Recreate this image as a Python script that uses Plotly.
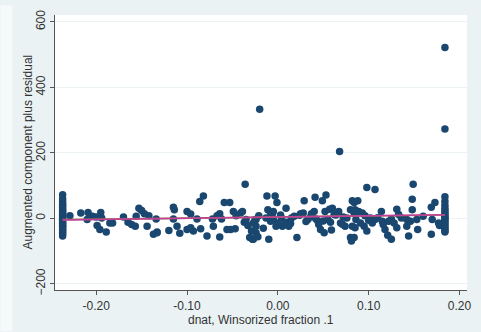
import plotly.graph_objects as go

# dnat (winsorized) vs. augmented component plus residual
x_left = -0.237
y_left = [72, 60, 51, 44, 39, 33, 27, 22, 18, 13, 9, 5, 1, -3, -7, -12, -16,
          -21, -25, -29, -34, -38, -43, -48, -54]
x_right = 0.184
y_right = [522, 273, 66, 52, 40, 31, 24, 17, 11, 6, 1, -4, -9, -15, -21, -27,
           -33, -38, -42]

x_mid = [-0.229, -0.217, -0.209, -0.210, -0.204, -0.200, -0.195, -0.194, -0.199,
         -0.196, -0.189, -0.185, -0.182, -0.170, -0.165, -0.161, -0.157, -0.156,
         -0.153, -0.150, -0.147, -0.142, -0.144, -0.137, -0.134, -0.133,
         -0.133, -0.120, -0.115, -0.114, -0.115, -0.111, -0.108, -0.100, -0.096,
         -0.100, -0.096, -0.093, -0.089, -0.085, -0.086, -0.082, -0.078, -0.072,
         -0.071, -0.067, -0.064, -0.062, -0.059, -0.053, -0.064, -0.056, -0.052,
         -0.047, -0.049, -0.046, -0.041, -0.039, -0.036, -0.037, -0.035, -0.033,
         -0.031, -0.028, -0.027, -0.029, -0.024,
         -0.025, -0.024, -0.024, -0.022, -0.027, -0.021, -0.020, -0.012, -0.003,
         -0.001, -0.011, -0.008, -0.005, -0.013, -0.008, -0.005, -0.002, 0.000,
         0.004, 0.005, 0.009, 0.010, 0.012, 0.015, -0.010, 0.021, 0.025, 0.028,
         0.029, 0.033, 0.037, 0.041, 0.040, 0.042, 0.045, 0.047, 0.049, 0.052,
         0.053, 0.055, 0.051, 0.057, 0.060, 0.059, 0.067, 0.068, 0.069, 0.074,
         0.076, 0.080, 0.082, 0.080, 0.081, 0.084, 0.082,
         0.084, 0.088, 0.098, 0.107, 0.085, 0.089, 0.093, 0.096, 0.086, 0.091,
         0.095, 0.098, 0.085, 0.084, 0.102, 0.104, 0.107, 0.114, 0.115, 0.116,
         0.118, 0.121, 0.125, 0.122, 0.125, 0.128, 0.131, 0.131, 0.136, 0.142,
         0.144, 0.142, 0.148, 0.148, 0.149, 0.146, 0.153, 0.154, 0.169, 0.173,
         0.170, 0.169, 0.177, 0.178,
         0.018, 0.031, 0.062, 0.071, 0.003, -0.016, 0.036, 0.044, 0.064, 0.110,
         0.014, 0.024, 0.058, 0.072, 0.100, 0.133, 0.160, -0.006, 0.007, 0.050]
y_mid = [8, 16, 18, -4, 6, 4, 18, 1, -22, -34, -42, -14, -14, 4, -12, -19, -24,
         6, 31, 24, 14, 8, -24, -49, -2, -42,
         -44, -37, 34, 26, -2, -24, -46, 21, 13, -34, -29, -39, -2, -32, 51, 68,
         -54, -2, -24, 8, 14, -2, 48, 48, -57, -34, -34, -32, 21, 8, 16, 21, 104,
         -12, -4, -22, -59, -64, -14, -39, -4,
         -4, -24, -44, -56, -64, 8, 333, 68, 68, 48, 26, 18, 21, 1, -9, -4, -24,
         -14, 1, -24, 31, -12, -24, 1, -64, -59, 14, 16, 54, -4, 14, 64, 21, -2,
         -19, -34, 54, 21, 71, -4, -44, 28, 31, -36, 21, 204, -14, -24, 1, 26,
         54, -59, -69, 16, -24,
         48, 54, 94, 88, 26, 21, 16, 8, -4, -14, -24, -39, -29, -59, 1, -14, -4,
         21, -9, -19, -34, -52, -64, -9, -2, -14, 28, -29, 1, -4, -54, -24, 26,
         58, 104, -9, -4, -34, 34, 48, -4, -49, -14, -22,
         6, -10, 12, -18, 10, -30, 4, -8, 10, 2, -16, 9, -12, 4, -6, 12, 6, 14,
         -18, -8]

xs = [x_left] * len(y_left) + x_mid + [x_right] * len(y_right)
ys = y_left + y_mid + y_right

# fitted regression line and lowess smooth
fit_x = [-0.237, 0.184]
fit_y = [-5, 11]
smooth_x = [-0.237, -0.15, -0.05, 0.05, 0.184]
smooth_y = [-4, -2, 2, 6, 10]

x_ticks = [-0.20, -0.10, 0.00, 0.10, 0.20]
x_ticktext = ["-0.20", "-0.10", "0.00", "0.10", "0.20"]
y_ticks = [-200, 0, 200, 400, 600]

x_title = "dnat, Winsorized fraction .1"
y_title = "Augmented component plus residual"

navy = "#1a476f"
fig = go.Figure()
fig.add_trace(go.Scatter(x=xs, y=ys, mode="markers",
                         marker=dict(color=navy, size=7.5, line=dict(width=0)),
                         showlegend=False))
fig.add_trace(go.Scatter(x=smooth_x, y=smooth_y, mode="lines",
                         line=dict(color="#9a6a4e", width=1.6), showlegend=False))
fig.add_trace(go.Scatter(x=fit_x, y=fit_y, mode="lines",
                         line=dict(color="#c2409c", width=1.6), showlegend=False))

font = dict(family="Liberation Sans, Arial, sans-serif", size=12, color="#333333")
fig.update_layout(
    width=481, height=332,
    margin=dict(l=55, r=10, t=10, b=42),
    paper_bgcolor="#eaf2f3",
    plot_bgcolor="white",
    font=font,
    shapes=[dict(type="rect", xref="paper", yref="paper",
                 x0=-55 / 416, x1=-43 / 416, y0=-42 / 280, y1=1 + 10 / 280,
                 fillcolor="#f6f9f9", line=dict(width=0), layer="below")],
    xaxis=dict(range=[-0.2454, 0.2083], tickvals=x_ticks, ticktext=x_ticktext,
               showgrid=False, zeroline=False, showline=True, linecolor="#555555",
               linewidth=1, ticks="outside", ticklen=4, tickcolor="#555555",
               tickfont=font, ticklabelstandoff=1),
    yaxis=dict(range=[-219, 621], tickvals=y_ticks, tickangle=-90,
               showgrid=True, gridcolor="#eaf2f3", gridwidth=1, zeroline=False,
               showline=True, linecolor="#555555", linewidth=1,
               ticks="outside", ticklen=4, tickcolor="#555555", tickfont=font),
    annotations=[
        dict(text=x_title, xref="paper", yref="paper", x=0.5, y=0,
             yshift=-30, yanchor="middle", xanchor="center", showarrow=False,
             font=font),
        dict(text=y_title, xref="paper", yref="paper", x=0, y=0.5,
             xshift=-28, xanchor="center", yanchor="middle", textangle=-90,
             showarrow=False, font=font),
    ],
)
fig.write_html("out.html")
